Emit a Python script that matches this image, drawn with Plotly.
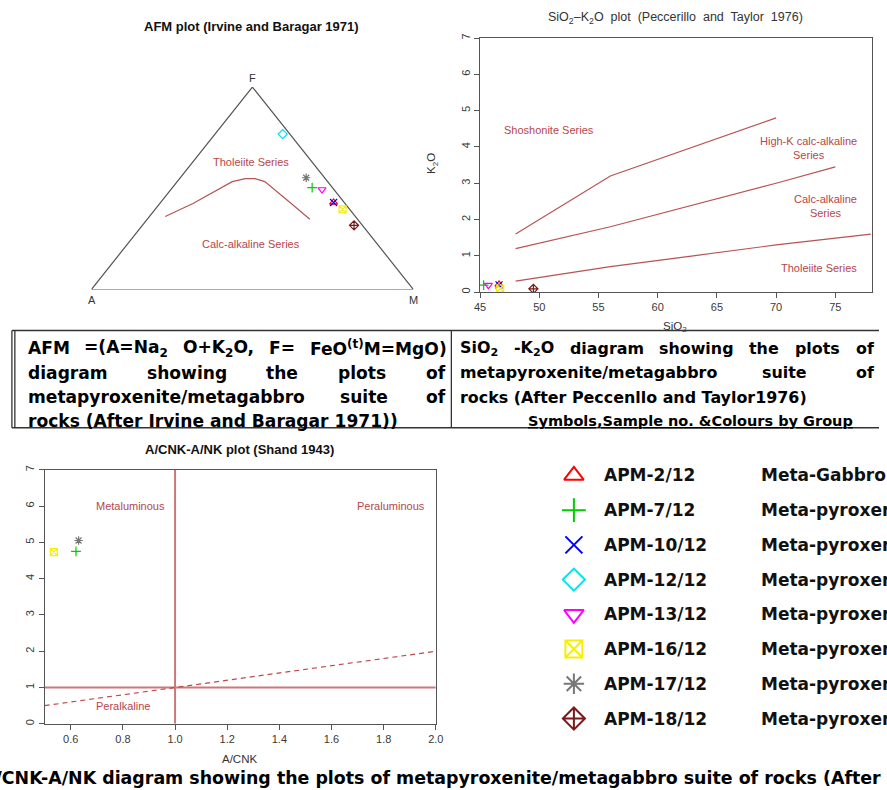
import re
import plotly.graph_objects as go

W, H = 887, 790

# ---------------- data ----------------
samples = ["APM-2/12", "APM-7/12", "APM-10/12", "APM-12/12",
           "APM-13/12", "APM-16/12", "APM-17/12", "APM-18/12"]
rock_types = ["Meta-Gabbro", "Meta-pyroxenite", "Meta-pyroxenite", "Meta-pyroxenite",
              "Meta-pyroxenite", "Meta-pyroxenite", "Meta-pyroxenite", "Meta-pyroxenite"]
symbols = ["triangle-up-open", "cross-thin-open", "x-thin-open", "diamond-open",
           "triangle-down-open", "square-x-open", "asterisk-open", "diamond-cross-open"]
colors = ["#FF0000", "#00CD00", "#0000FF", "#00E5EE",
          "#FF00FF", "#F5F000", "#777777", "#7A1A1A"]

# AFM ternary values (%)
afm_A = [3.3, 6.3, 3.3, 2.2, 3.7, 2.2, 5.7, 2.6]
afm_F = [43.0, 50.3, 43.0, 76.8, 49.4, 39.6, 55.2, 31.7]
afm_M = [53.7, 43.4, 53.7, 21.0, 46.9, 58.2, 39.1, 65.7]

# Irvine & Baragar (1971) tholeiite / calc-alkaline boundary (%)
ib_A = [59.0, 47.2, 29.6, 24.8, 21.8, 19.5, 16.7, 14.8]
ib_F = [36.1, 42.5, 53.3, 54.8, 54.8, 53.3, 42.5, 34.7]
ib_M = [4.9, 10.3, 17.1, 20.4, 23.4, 27.2, 40.8, 50.5]

# SiO2 - K2O (wt%)
sio2 = [46.6, 45.3, 46.6, None, 45.7, 46.7, None, 49.5]
k2o = [0.21, 0.19, 0.20, None, 0.19, 0.10, None, 0.09]

# Peccerillo & Taylor (1976) boundaries
pt_sho_x = [48, 56, 70]
pt_sho_y = [1.6, 3.2, 4.8]
pt_hk_x = [48, 56, 70, 75]
pt_hk_y = [1.2, 1.8, 3.0, 3.45]
pt_ca_x = [48, 56, 63, 70, 78]
pt_ca_y = [0.3, 0.7, 1.0, 1.3, 1.6]

# A/CNK - A/NK (Shand 1943)
acnk = [None, 0.62, None, None, None, 0.535, 0.63, None]
ank = [None, 4.75, None, None, None, 4.73, 5.05, None]
shand_x = [0.5, 2.0]
shand_eq = [0.5, 2.0]       # A/NK = A/CNK dashed line
shand_one = [1.0, 1.0]
shand_yspan = [0, 7]

sio2_ticks = [45, 50, 55, 60, 65, 70, 75]
acnk_ticks = [0.6, 0.8, 1.0, 1.2, 1.4, 1.6, 1.8, 2.0]
y_ticks = [0, 1, 2, 3, 4, 5, 6, 7]

# ---------------- helpers ----------------
def tern(a, f, m):
    xs = [(mm + 0.5 * ff) / (aa + ff + mm) for aa, ff, mm in zip(a, f, m)]
    ys = [ff / (aa + ff + mm) for aa, ff, mm in zip(a, f, m)]
    return xs, ys

def px(x):
    return x / W

def py(y):
    return 1 - y / H

def dx(p0, p1):
    return [p0 / W, p1 / W]

def dy(top, bot):
    return [1 - bot / H, 1 - top / H]

# approximate advance widths (em) of DejaVu Sans Bold, used to justify caption lines
CW = {" ": .348, "a": .675, "b": .716, "c": .593, "d": .716, "e": .678, "f": .435,
      "g": .716, "h": .712, "i": .343, "k": .665, "l": .343, "m": 1.042, "n": .712,
      "o": .687, "p": .716, "r": .493, "s": .595, "t": .478, "u": .712, "v": .652,
      "w": .924, "x": .645, "y": .652, "z": .582, "A": .774, "B": .762, "C": .734,
      "D": .830, "E": .683, "F": .683, "G": .821, "H": .837, "I": .372, "K": .775,
      "M": .995, "N": .837, "O": .850, "P": .733, "S": .720, "T": .682,
      "(": .457, ")": .457, "/": .365, "-": .415, "=": .838, "+": .838, ",": .380,
      ".": .380, "&": .872}
for d in "0123456789":
    CW[d] = .696

def text_em(s):
    total, scale = 0.0, 1.0
    for tok in re.split(r"(<[^>]+>)", s):
        if tok.startswith("<"):
            if tok in ("<sub>", "<sup>"):
                scale = 0.7
            elif tok in ("</sub>", "</sup>"):
                scale = 1.0
            continue
        for ch in tok:
            total += CW.get(ch, .65) * scale
    return total

LINE_COL = "#B85353"
TXT_COL = "#B5474B"
AX_COL = "#555555"
TICK_FONT = dict(family="Liberation Sans, Arial", size=11, color="#3a3a3a")
CAP_FONT = "DejaVu Sans, Verdana"

LEG_TOP, LEG_STEP = 474, 35

fig = go.Figure()

# ---------------- AFM panel ----------------
tri_x, tri_y = tern([100, 0, 0, 100], [0, 0, 100, 0], [0, 100, 0, 0])
fig.add_trace(go.Scatter(x=tri_x, y=tri_y, mode="lines",
                         line=dict(color="#555555", width=1.2),
                         xaxis="x", yaxis="y", showlegend=False, hoverinfo="skip"))
ibx, iby = tern(ib_A, ib_F, ib_M)
fig.add_trace(go.Scatter(x=ibx, y=iby, mode="lines",
                         line=dict(color=LINE_COL, width=1.2),
                         xaxis="x", yaxis="y", showlegend=False))
ax_, ay_ = tern(afm_A, afm_F, afm_M)
for i in range(len(samples)):
    fig.add_trace(go.Scatter(x=[ax_[i]], y=[ay_[i]], mode="markers",
                             marker=dict(symbol=symbols[i], color=colors[i], size=7,
                                         line=dict(color=colors[i], width=1.2)),
                             xaxis="x", yaxis="y", showlegend=False, cliponaxis=False,
                             name=samples[i]))

# ---------------- SiO2 - K2O panel ----------------
for xs, ys in [(pt_sho_x, pt_sho_y), (pt_hk_x, pt_hk_y), (pt_ca_x, pt_ca_y)]:
    fig.add_trace(go.Scatter(x=xs, y=ys, mode="lines",
                             line=dict(color=LINE_COL, width=1.2),
                             xaxis="x2", yaxis="y2", showlegend=False))
for i in range(len(samples)):
    fig.add_trace(go.Scatter(x=[sio2[i]], y=[k2o[i]], mode="markers",
                             marker=dict(symbol=symbols[i], color=colors[i], size=7,
                                         line=dict(color=colors[i], width=1.2)),
                             xaxis="x2", yaxis="y2", showlegend=False, name=samples[i]))

# ---------------- A/CNK - A/NK panel ----------------
fig.add_trace(go.Scatter(x=shand_one, y=shand_yspan, mode="lines",
                         line=dict(color="#CD7878", width=2),
                         xaxis="x3", yaxis="y3", showlegend=False))
fig.add_trace(go.Scatter(x=shand_x, y=shand_one, mode="lines",
                         line=dict(color="#CD7878", width=2),
                         xaxis="x3", yaxis="y3", showlegend=False))
fig.add_trace(go.Scatter(x=shand_x, y=shand_eq, mode="lines",
                         line=dict(color="#C04848", width=1.2, dash="5px,4px"),
                         xaxis="x3", yaxis="y3", showlegend=False))
for i in range(len(samples)):
    fig.add_trace(go.Scatter(x=[acnk[i]], y=[ank[i]], mode="markers",
                             marker=dict(symbol=symbols[i], color=colors[i], size=7,
                                         line=dict(color=colors[i], width=1.2)),
                             xaxis="x3", yaxis="y3", showlegend=False, name=samples[i]))

# ---------------- legend symbols ----------------
n = len(samples)
for i in range(n):
    fig.add_trace(go.Scatter(x=[0], y=[i], mode="markers",
                             marker=dict(symbol=symbols[i], color=colors[i], size=17,
                                         line=dict(color=colors[i], width=2)),
                             xaxis="x4", yaxis="y4", showlegend=False, cliponaxis=False,
                             name=samples[i]))

# ---------------- axes ----------------
hidden = dict(visible=False, showgrid=False, zeroline=False)
common = dict(showgrid=False, zeroline=False, showline=True, mirror=True,
              linecolor=AX_COL, linewidth=1.2, ticks="outside", ticklen=5,
              tickcolor=AX_COL, tickfont=TICK_FONT)
fig.update_layout(
    xaxis=dict(domain=dx(86.7, 414), range=[0, 1], anchor="y", **hidden),
    yaxis=dict(domain=dy(82.7, 286.7), range=[0, 1], anchor="x", **hidden),
    xaxis2=dict(domain=dx(481.7, 880), range=[45, 45 + (880 - 481.7) / 12.03],
                anchor="y2", tickvals=sio2_ticks, **common),
    yaxis2=dict(domain=dy(33.3, 289.3), range=[0, 7], anchor="x2",
                tickvals=y_ticks, tickangle=-90, **common),
    xaxis3=dict(domain=dx(39.3, 436.7), range=[0.5, 2.0], anchor="y3",
                tickvals=acnk_ticks, tickformat=".1f", **common),
    yaxis3=dict(domain=dy(468.3, 724.3), range=[0, 7], anchor="x3",
                tickvals=y_ticks, tickangle=-90, **common),
    xaxis4=dict(domain=dx(556, 598), range=[-1, 1], anchor="y4", **hidden),
    yaxis4=dict(domain=dy(LEG_TOP - LEG_STEP / 2, LEG_TOP + (n - 0.5) * LEG_STEP),
                range=[n - 0.5, -0.5], anchor="x4", **hidden),
)

# ---------------- annotations ----------------
anns = []

def ann(text, x, y, size=11, color="#222222", family="Liberation Sans, Arial",
        xanchor="center", yanchor="middle", angle=0, xref="paper", yref="paper",
        tight=False):
    d = dict(text=text, x=x, y=y, xref=xref, yref=yref, showarrow=False,
             xanchor=xanchor, yanchor=yanchor, textangle=angle,
             font=dict(size=size, color=color, family=family))
    if tight:
        d.update(borderpad=0, borderwidth=0)
    anns.append(d)

# panel titles
ann("<b>AFM plot (Irvine and Baragar 1971)</b>", px(249), py(22), size=13, color="#111111")
ann("SiO<sub>2</sub>\u2013K<sub>2</sub>O  plot  (Peccerillo  and  Taylor  1976)",
    px(680), py(13), size=12.5, color="#333333")
ann("<b>A/CNK-A/NK plot (Shand 1943)</b>", px(237), py(448), size=13, color="#111111")

# AFM labels
ann("F", px(250), py(74), size=11, color="#333333")
ann("A", px(87), py(297), size=11, color="#333333")
ann("M", px(414), py(297), size=11, color="#333333")
ann("Tholeiite Series", px(249), py(158), size=11, color=TXT_COL)
ann("Calc-alkaline Series", px(249), py(241), size=11, color=TXT_COL)

# SiO2-K2O labels
ann("Shoshonite Series", 50.8, 4.48, size=11, color=TXT_COL, xref="x2", yref="y2")
ann("High-K calc-alkaline<br>Series", 77.0, 3.97, size=11, color=TXT_COL,
    xref="x2", yref="y2", xanchor="right")
ann("Calc-alkaline<br>Series", 77.0, 2.37, size=11, color=TXT_COL,
    xref="x2", yref="y2", xanchor="right")
ann("Tholeiite Series", 77.0, 0.665, size=11, color=TXT_COL,
    xref="x2", yref="y2", xanchor="right")
ann("SiO<sub>2</sub>", px(680), py(324), size=11.5, color="#333333")
ann("K<sub>2</sub>O", px(433), py(160), size=11.5, color="#333333", angle=-90)

# Shand labels
ann("Metaluminous", 0.83, 6.0, size=11, color=TXT_COL, xref="x3", yref="y3")
ann("Peraluminous", 1.827, 6.0, size=11, color=TXT_COL, xref="x3", yref="y3")
ann("Peralkaline", 0.80, 0.48, size=11, color=TXT_COL, xref="x3", yref="y3")
ann("A/CNK", px(237), py(760), size=11.5, color="#333333")

# legend texts
for i in range(n):
    row = LEG_TOP + i * LEG_STEP
    ann("<b>%s</b>" % samples[i], px(608), py(row), size=17, color="#111111",
        family=CAP_FONT, xanchor="left", tight=True)
    ann("<b>%s</b>" % rock_types[i], px(767), py(row), size=17, color="#111111",
        family=CAP_FONT, xanchor="left", tight=True)

def cap(text, x, y, size, xanchor="left"):
    ann("<b>%s</b>" % text, px(x), py(y), size=size, color="#000000",
        family=CAP_FONT, xanchor=xanchor, tight=True)

def justify(words, left, right, y, size):
    widths = [text_em(w) * size for w in words]
    gap = (right - left - sum(widths)) / (len(words) - 1)
    x = left
    for w, wd in zip(words, widths):
        cap(w, x, y, size)
        x += wd + gap

# caption box 1
S1 = 17.1
justify(["AFM", "=(A=Na<sub>2</sub>", "O+K<sub>2</sub>O,", "F=",
         "FeO<sup>(t)</sup>M=MgO)"], 22, 446, 346, S1)
justify(["diagram", "showing", "the", "plots", "of"], 22, 446, 370.5, S1)
justify(["metapyroxenite/metagabbro", "suite", "of"], 22, 446, 395, S1)
cap("rocks (After Irvine and Baragar 1971))", 22, 419, S1)

# caption box 2
S2 = 15.9
justify(["SiO<sub>2</sub>", "-K<sub>2</sub>O", "diagram", "showing", "the", "plots", "of"],
        461, 881, 346, S2)
justify(["metapyroxenite/metagabbro", "suite", "of"], 461, 881, 370.5, S2)
cap("rocks (After Peccenllo and Taylor1976)", 461, 395, S2)
cap("<u>Symbols,Sample no. &Colours by Group</u>", 530, 419, 14.5)

# bottom caption (left part runs off the page as in the original)
S3 = 17.4
cap("A/CNK-A/NK diagram showing the plots of metapyroxenite/metagabbro suite of rocks (After Shand 1943)",
    -text_em("A/") * S3 - 5, 779, S3)

# ---------------- caption box lines ----------------
shapes = []
def seg(x0, y0, x1, y1, w=1.3, col="#333333"):
    shapes.append(dict(type="line", xref="paper", yref="paper",
                       x0=px(x0), y0=py(y0), x1=px(x1), y1=py(y1),
                       line=dict(color=col, width=w)))

seg(6, 328, 887, 328)
seg(6, 426, 887, 426)
seg(6, 328, 6, 426)
seg(9, 328, 9, 426)
seg(452.5, 328, 452.5, 426)

fig.update_layout(
    width=W, height=H,
    margin=dict(l=0, r=0, t=0, b=0),
    paper_bgcolor="white", plot_bgcolor="white",
    showlegend=False,
    annotations=anns, shapes=shapes,
)

fig.write_html("out.html", config={"displayModeBar": False},
               post_script="document.body.style.margin='0px';"
                           "document.body.style.overflow='hidden';")
